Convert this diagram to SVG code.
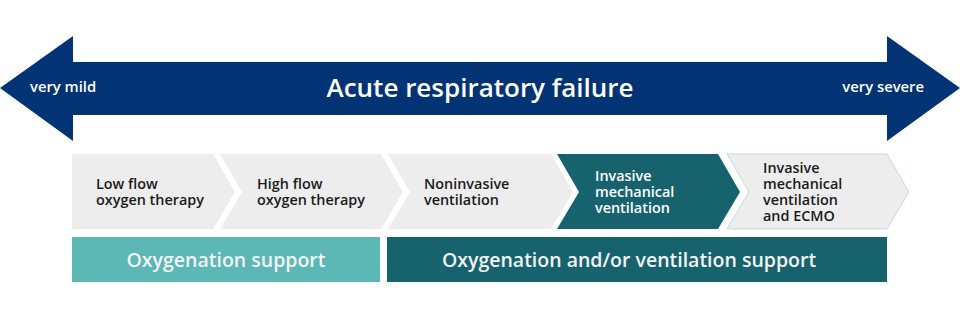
<svg xmlns="http://www.w3.org/2000/svg" width="960" height="318" viewBox="0 0 960 318">
<style>
.lbl{font-family:"Open Sans","Noto Sans","Liberation Sans",sans-serif;font-weight:600;font-size:14.4px;fill:#1a1a1a}
.lblw{fill:#ffffff}
.top{font-family:"Open Sans","Noto Sans","Liberation Sans",sans-serif;font-weight:600;fill:#ffffff}
.grey{fill:#ededed}
.teal{fill:#17636d}
.light{fill:#5bb8b5}
.bar{font-family:"Open Sans","Noto Sans","Liberation Sans",sans-serif;font-weight:600;font-size:19.5px;fill:#f4f4f4;text-anchor:middle}
</style>
<rect width="960" height="318" fill="#ffffff"/>
<g id="scale">
<polygon points="0,88 73,36 73,62 887,62 887,36 960,88 887,141 887,115 73,115 73,141" fill="#023375"/>
<text class="top" x="30" y="92" font-size="14.8">very mild</text>
<text class="top" x="924" y="92" font-size="14.8" text-anchor="end">very severe</text>
<text class="top" x="480" y="97" font-size="26" text-anchor="middle">Acute respiratory failure</text>
</g>
<g id="low-flow">
<polygon class="grey" points="72,154 213,154 235,192 213,229 72,229"/>
<text class="lbl" x="96" y="189">Low flow<tspan x="96" dy="16">oxygen therapy</tspan></text>
</g>
<g id="high-flow">
<polygon class="grey" points="220,154 381,154 403,192 381,229 220,229 242,192"/>
<text class="lbl" x="257" y="189">High flow<tspan x="257" dy="16">oxygen therapy</tspan></text>
</g>
<g id="noninvasive">
<polygon class="grey" points="388,154 551,154 573,192 551,229 388,229 410,192"/>
<text class="lbl" x="424" y="189">Noninvasive<tspan x="424" dy="16">ventilation</tspan></text>
</g>
<g id="invasive">
<polygon class="teal" points="557,154 718,154 740,192 718,229 557,229 579,192"/>
<text class="lbl lblw" x="595" y="181">Invasive<tspan x="595" dy="16">mechanical</tspan><tspan x="595" dy="16">ventilation</tspan></text>
</g>
<g id="ecmo">
<polygon class="grey" points="727,154 887,154 909,192 887,229 727,229 749,192" stroke="#c5dcdc" stroke-width="1"/>
<text class="lbl" x="763" y="173">Invasive<tspan x="763" dy="16">mechanical</tspan><tspan x="763" dy="16">ventilation</tspan><tspan x="763" dy="16">and ECMO</tspan></text>
</g>
<g id="oxygenation-support">
<rect class="light" x="72" y="237" width="308" height="45"/>
<text class="bar" x="226" y="267">Oxygenation support</text>
</g>
<g id="ventilation-support">
<rect class="teal" x="387" y="237" width="500" height="45"/>
<text class="bar" x="629" y="267">Oxygenation and/or ventilation support</text>
</g>
<g id="connectors"></g>
</svg>
